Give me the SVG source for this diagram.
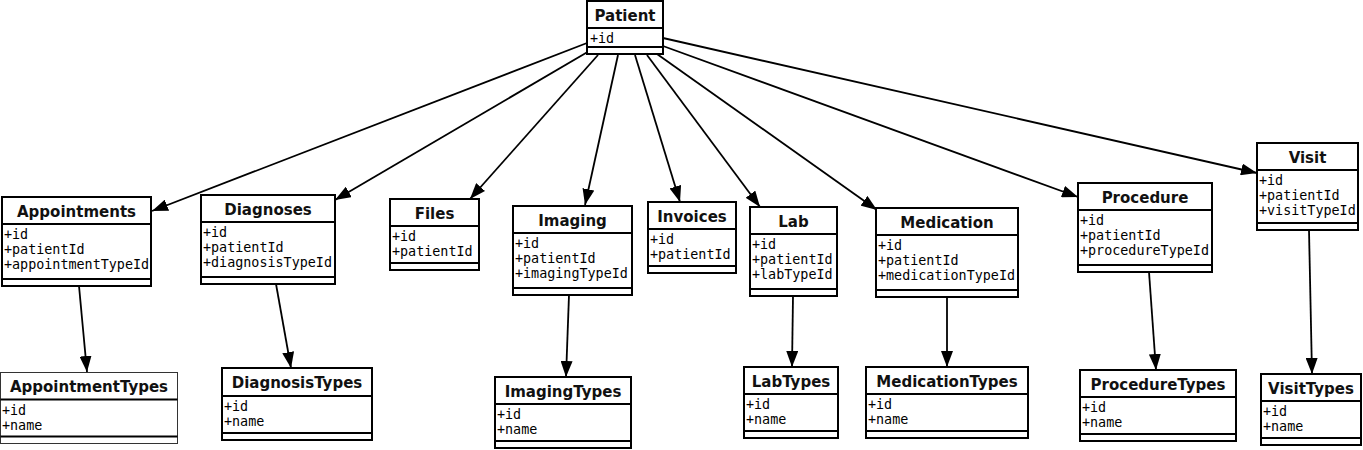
<svg xmlns="http://www.w3.org/2000/svg" width="1363" height="450" viewBox="0 0 1363 450">
<style>
.box{fill:#fff;stroke:#000;stroke-width:2}
.thin{stroke-width:1;stroke:#333}
.sep{stroke:#000;stroke-width:2}
.t{font-family:"DejaVu Sans",sans-serif;font-weight:bold;font-size:15px;text-anchor:middle;fill:#111}
.a{font-family:"DejaVu Sans Mono",monospace;font-size:13.4px;fill:#000}
.c{stroke:#000;stroke-width:1.8;fill:none;marker-end:url(#ah)}
</style>
<defs>
<marker id="ah" markerUnits="userSpaceOnUse" markerWidth="18" markerHeight="12" refX="16" refY="6" orient="auto">
<path d="M0,0 L16,6 L0,12 Z" fill="#000"/>
</marker>
</defs>
<rect width="1363" height="450" fill="#fff"/>
<g id="connectors">
<line class="c" x1="587" y1="43" x2="152" y2="211"/>
<line class="c" x1="591" y1="50" x2="335" y2="200"/>
<line class="c" x1="598" y1="55" x2="470" y2="199"/>
<line class="c" x1="618" y1="55" x2="585" y2="205"/>
<line class="c" x1="635" y1="55" x2="680" y2="202"/>
<line class="c" x1="647" y1="55" x2="760" y2="207"/>
<line class="c" x1="657" y1="54" x2="877" y2="210"/>
<line class="c" x1="663" y1="46" x2="1078" y2="197"/>
<line class="c" x1="663" y1="38" x2="1257" y2="173"/>
<line class="c" x1="79" y1="286" x2="87" y2="372"/>
<line class="c" x1="276" y1="284" x2="291" y2="368"/>
<line class="c" x1="569" y1="295" x2="566" y2="377"/>
<line class="c" x1="793" y1="296" x2="792" y2="367"/>
<line class="c" x1="947" y1="297" x2="947" y2="367"/>
<line class="c" x1="1149" y1="272" x2="1156" y2="370"/>
<line class="c" x1="1309" y1="230" x2="1312" y2="374"/>
</g>
<g id="Patient">
<rect class="box" x="587" y="1" width="76" height="53"/>
<line class="sep" x1="587" y1="28" x2="663" y2="28"/>
<line class="sep" x1="587" y1="47" x2="663" y2="47"/>
<text class="t" x="625" y="21">Patient</text>
<text class="a" x="590" y="43">+id</text>
</g>
<g id="Appointments">
<rect class="box" x="2" y="197" width="149" height="89"/>
<line class="sep" x1="2" y1="224" x2="151" y2="224"/>
<line class="sep" x1="2" y1="279" x2="151" y2="279"/>
<text class="t" x="76.5" y="217">Appointments</text>
<text class="a" x="4" y="239">+id</text>
<text class="a" x="4" y="254">+patientId</text>
<text class="a" x="4" y="269">+appointmentTypeId</text>
</g>
<g id="Diagnoses">
<rect class="box" x="201" y="195" width="134" height="89"/>
<line class="sep" x1="201" y1="222" x2="335" y2="222"/>
<line class="sep" x1="201" y1="277" x2="335" y2="277"/>
<text class="t" x="268" y="215">Diagnoses</text>
<text class="a" x="203" y="237">+id</text>
<text class="a" x="203" y="252">+patientId</text>
<text class="a" x="203" y="267">+diagnosisTypeId</text>
</g>
<g id="Files">
<rect class="box" x="390" y="199" width="89" height="71"/>
<line class="sep" x1="390" y1="226" x2="479" y2="226"/>
<line class="sep" x1="390" y1="263" x2="479" y2="263"/>
<text class="t" x="434.5" y="219">Files</text>
<text class="a" x="392" y="241">+id</text>
<text class="a" x="392" y="256">+patientId</text>
</g>
<g id="Imaging">
<rect class="box" x="513" y="206" width="119" height="89"/>
<line class="sep" x1="513" y1="233" x2="632" y2="233"/>
<line class="sep" x1="513" y1="288" x2="632" y2="288"/>
<text class="t" x="572.5" y="226">Imaging</text>
<text class="a" x="515" y="248">+id</text>
<text class="a" x="515" y="263">+patientId</text>
<text class="a" x="515" y="278">+imagingTypeId</text>
</g>
<g id="Invoices">
<rect class="box" x="648" y="202" width="88" height="71"/>
<line class="sep" x1="648" y1="229" x2="736" y2="229"/>
<line class="sep" x1="648" y1="266" x2="736" y2="266"/>
<text class="t" x="692" y="222">Invoices</text>
<text class="a" x="650" y="244">+id</text>
<text class="a" x="650" y="259">+patientId</text>
</g>
<g id="Lab">
<rect class="box" x="750" y="207" width="87" height="89"/>
<line class="sep" x1="750" y1="234" x2="837" y2="234"/>
<line class="sep" x1="750" y1="289" x2="837" y2="289"/>
<text class="t" x="793.5" y="227">Lab</text>
<text class="a" x="752" y="249">+id</text>
<text class="a" x="752" y="264">+patientId</text>
<text class="a" x="752" y="279">+labTypeId</text>
</g>
<g id="Medication">
<rect class="box" x="876" y="208" width="142" height="89"/>
<line class="sep" x1="876" y1="235" x2="1018" y2="235"/>
<line class="sep" x1="876" y1="290" x2="1018" y2="290"/>
<text class="t" x="947" y="228">Medication</text>
<text class="a" x="878" y="250">+id</text>
<text class="a" x="878" y="265">+patientId</text>
<text class="a" x="878" y="280">+medicationTypeId</text>
</g>
<g id="Procedure">
<rect class="box" x="1078" y="183" width="134" height="89"/>
<line class="sep" x1="1078" y1="210" x2="1212" y2="210"/>
<line class="sep" x1="1078" y1="265" x2="1212" y2="265"/>
<text class="t" x="1145" y="203">Procedure</text>
<text class="a" x="1080" y="225">+id</text>
<text class="a" x="1080" y="240">+patientId</text>
<text class="a" x="1080" y="255">+procedureTypeId</text>
</g>
<g id="Visit">
<rect class="box" x="1257" y="143" width="101" height="87"/>
<line class="sep" x1="1257" y1="170" x2="1358" y2="170"/>
<line class="sep" x1="1257" y1="223" x2="1358" y2="223"/>
<text class="t" x="1307.5" y="163">Visit</text>
<text class="a" x="1259" y="185">+id</text>
<text class="a" x="1259" y="200">+patientId</text>
<text class="a" x="1259" y="215">+visitTypeId</text>
</g>
<g id="AppointmentTypes">
<rect class="box thin" x="0.5" y="372.5" width="177" height="71"/>
<line class="sep thin" x1="0.5" y1="399.5" x2="177.5" y2="399.5"/>
<line class="sep thin" x1="0.5" y1="436.5" x2="177.5" y2="436.5"/>
<text class="t" x="89" y="392">AppointmentTypes</text>
<text class="a" x="2" y="415">+id</text>
<text class="a" x="2" y="430">+name</text>
</g>
<g id="DiagnosisTypes">
<rect class="box" x="222" y="368" width="150" height="72"/>
<line class="sep" x1="222" y1="396" x2="372" y2="396"/>
<line class="sep" x1="222" y1="433" x2="372" y2="433"/>
<text class="t" x="297" y="388">DiagnosisTypes</text>
<text class="a" x="224" y="411">+id</text>
<text class="a" x="224" y="426">+name</text>
</g>
<g id="ImagingTypes">
<rect class="box" x="495" y="377" width="136" height="71"/>
<line class="sep" x1="495" y1="404" x2="631" y2="404"/>
<line class="sep" x1="495" y1="441" x2="631" y2="441"/>
<text class="t" x="563" y="397">ImagingTypes</text>
<text class="a" x="497" y="419">+id</text>
<text class="a" x="497" y="434">+name</text>
</g>
<g id="LabTypes">
<rect class="box" x="744" y="367" width="94" height="71"/>
<line class="sep" x1="744" y1="394" x2="838" y2="394"/>
<line class="sep" x1="744" y1="431" x2="838" y2="431"/>
<text class="t" x="791" y="387">LabTypes</text>
<text class="a" x="746" y="409">+id</text>
<text class="a" x="746" y="424">+name</text>
</g>
<g id="MedicationTypes">
<rect class="box" x="866" y="367" width="162" height="71"/>
<line class="sep" x1="866" y1="394" x2="1028" y2="394"/>
<line class="sep" x1="866" y1="431" x2="1028" y2="431"/>
<text class="t" x="947" y="387">MedicationTypes</text>
<text class="a" x="868" y="409">+id</text>
<text class="a" x="868" y="424">+name</text>
</g>
<g id="ProcedureTypes">
<rect class="box" x="1080" y="370" width="156" height="71"/>
<line class="sep" x1="1080" y1="397" x2="1236" y2="397"/>
<line class="sep" x1="1080" y1="434" x2="1236" y2="434"/>
<text class="t" x="1158" y="390">ProcedureTypes</text>
<text class="a" x="1082" y="412">+id</text>
<text class="a" x="1082" y="427">+name</text>
</g>
<g id="VisitTypes">
<rect class="box" x="1261" y="374" width="100" height="71"/>
<line class="sep" x1="1261" y1="401" x2="1361" y2="401"/>
<line class="sep" x1="1261" y1="438" x2="1361" y2="438"/>
<text class="t" x="1311" y="394">VisitTypes</text>
<text class="a" x="1263" y="416">+id</text>
<text class="a" x="1263" y="431">+name</text>
</g>
</svg>
